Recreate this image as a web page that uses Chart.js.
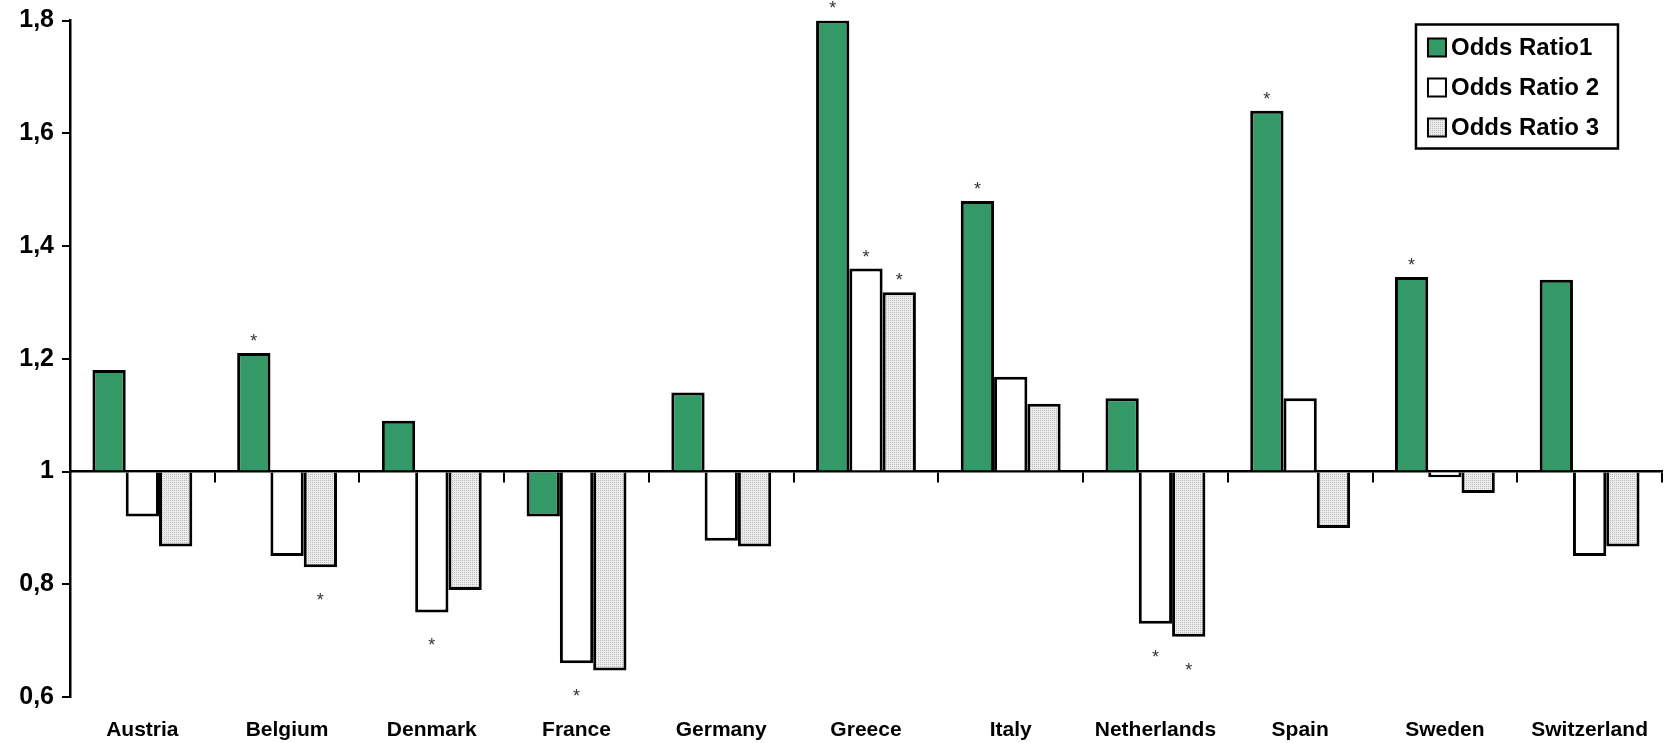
<!DOCTYPE html>
<html>
<head>
<meta charset="utf-8">
<script src="https://cdn.jsdelivr.net/npm/chart.js@4"></script>
<style>
  html, body { margin: 0; padding: 0; background: #fff; }
  #wrap { width: 1669px; height: 743px; }
</style>
</head>
<body>
<div id="wrap"><canvas id="c"></canvas></div>
<script>
// Countries on the category axis
const categories = ['Austria', 'Belgium', 'Denmark', 'France', 'Germany', 'Greece', 'Italy', 'Netherlands', 'Spain', 'Sweden', 'Switzerland'];

// Odds ratios per country
const oddsRatio1 = [1.18, 1.21, 1.09, 0.92, 1.14, 1.80, 1.48, 1.13, 1.64, 1.345, 1.34];
const oddsRatio2 = [0.92, 0.85, 0.75, 0.66, 0.877, 1.36, 1.168, 0.73, 1.13, 0.99, 0.85];
const oddsRatio3 = [0.867, 0.83, 0.79, 0.647, 0.867, 1.318, 1.12, 0.707, 0.90, 0.962, 0.867];

// Significance markers (asterisks) per series
const significant1 = [false, true, false, false, false, true, true, false, true, true, false];
const significant2 = [false, false, true, true, false, true, false, true, false, false, false];
const significant3 = [false, true, false, false, false, true, false, true, false, false, false];

// Value-axis ticks
const yMin = 0.6;
const yMax = 1.8;
const yStep = 0.2;
const referenceValue = 1;

const FONT = '"Liberation Sans", Arial, Helvetica, sans-serif';

// Light dotted grey fill
function dottedFill() {
  const t = document.createElement('canvas');
  t.width = 2; t.height = 2;
  const g = t.getContext('2d');
  g.fillStyle = '#ececec';
  g.fillRect(0, 0, 2, 2);
  g.fillStyle = '#bcbcbc';
  g.fillRect(0, 0, 1, 1);
  return g.createPattern(t, 'repeat');
}

const markers = [significant1, significant2, significant3];

// Asterisks beyond the end of significant bars
const asteriskPlugin = {
  id: 'asterisks',
  afterDatasetsDraw(chart) {
    const ctx = chart.ctx;
    ctx.save();
    ctx.fillStyle = '#333';
    ctx.font = '18px ' + FONT;
    ctx.textAlign = 'center';
    ctx.textBaseline = 'middle';
    chart.data.datasets.forEach((ds, i) => {
      const meta = chart.getDatasetMeta(i);
      meta.data.forEach((bar, j) => {
        if (!markers[i][j]) return;
        const up = ds.data[j] >= referenceValue;
        const y = up ? bar.y - 15 : bar.y + 30;
        ctx.fillText('*', bar.x, y + 4);
      });
    });
    ctx.restore();
  }
};

// Boxed legend in the top-right corner of the plot
const boxLegendPlugin = {
  id: 'boxLegend',
  afterDraw(chart) {
    const ctx = chart.ctx;
    const area = chart.chartArea;
    const left = area.right - 246, top = area.top + 4;
    const w = 202, h = 124;
    ctx.save();
    ctx.fillStyle = '#fff';
    ctx.fillRect(left, top, w, h);
    ctx.lineWidth = 2.5;
    ctx.strokeStyle = '#000';
    ctx.strokeRect(left, top, w, h);
    ctx.font = 'bold 24px ' + FONT;
    ctx.textBaseline = 'middle';
    chart.data.datasets.forEach((ds, i) => {
      const cy = top + 23 + i * 40;
      ctx.fillStyle = ds.backgroundColor;
      ctx.fillRect(left + 12, cy - 9, 18, 18);
      ctx.lineWidth = 2;
      ctx.strokeStyle = '#000';
      ctx.strokeRect(left + 12, cy - 9, 18, 18);
      ctx.fillStyle = '#000';
      ctx.fillText(ds.label, left + 35, cy + 1);
    });
    ctx.restore();
  }
};

const barStyle = {
  borderColor: '#000',
  borderWidth: 3,
  base: referenceValue,
  categoryPercentage: 0.69,
  barPercentage: 1.0
};

new Chart(document.getElementById('c'), {
  type: 'bar',
  data: {
    labels: categories,
    datasets: [
      Object.assign({ label: 'Odds Ratio1', data: oddsRatio1, backgroundColor: '#339966' }, barStyle),
      Object.assign({ label: 'Odds Ratio 2', data: oddsRatio2, backgroundColor: '#ffffff' }, barStyle),
      Object.assign({ label: 'Odds Ratio 3', data: oddsRatio3, backgroundColor: dottedFill() }, barStyle)
    ]
  },
  options: {
    responsive: true,
    maintainAspectRatio: false,
    animation: false,
    layout: { padding: { top: 19, right: 1, left: 0, bottom: 0 } },
    plugins: {
      legend: { display: false },
      tooltip: { enabled: false }
    },
    scales: {
      x: {
        type: 'category',
        position: 'bottom',
        offset: true,
        border: { display: false },
        grid: { display: false, drawTicks: false },
        ticks: {
          color: '#000',
          padding: 21,
          maxRotation: 0,
          autoSkip: false,
          font: { family: FONT, size: 21, weight: 'bold' }
        },
        afterFit(s) { s.height = 46; }
      },
      xRef: {
        type: 'category',
        position: { y: referenceValue },
        offset: true,
        border: { display: true, color: '#000', width: 2.5 },
        grid: { display: true, drawOnChartArea: false, drawTicks: true, tickLength: 10, color: '#000', lineWidth: 2, offset: true },
        ticks: { display: false }
      },
      y: {
        min: yMin,
        max: yMax,
        border: { display: true, color: '#000', width: 2.5 },
        grid: { display: true, drawOnChartArea: false, drawTicks: true, tickLength: 8, color: '#000', lineWidth: 2 },
        ticks: {
          stepSize: yStep,
          color: '#000',
          padding: 8,
          font: { family: FONT, size: 25, weight: 'bold', lineHeight: 1 },
          callback(v) {
            if (Math.abs(v - 1) < 1e-9) return '1';
            return (Math.round(v * 10) / 10).toFixed(1).replace('.', ',');
          }
        },
        afterFit(s) { s.width = 70; }
      }
    }
  },
  plugins: [asteriskPlugin, boxLegendPlugin]
});
</script>
</body>
</html>
